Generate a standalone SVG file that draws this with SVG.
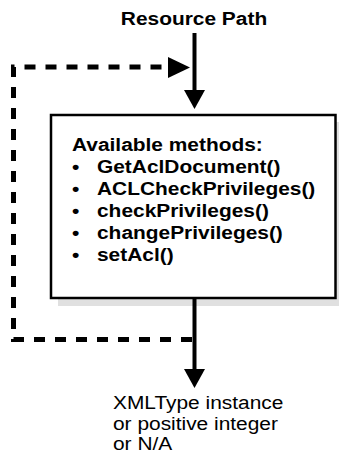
<svg xmlns="http://www.w3.org/2000/svg" width="339" height="454" viewBox="0 0 339 454">
<style>
.b{font-family:"Liberation Sans",Arial,sans-serif;font-weight:bold;font-size:19px;fill:#000}
.r{font-family:"Liberation Sans",Arial,sans-serif;font-size:19px;fill:#000}
.solid{stroke:#000;stroke-width:4;fill:none}
.dash{stroke:#000;stroke-width:5;fill:none;stroke-dasharray:11 10}
</style>
<rect width="339" height="454" fill="#fff"/>
<g id="input-label">
<text class="b" transform="translate(194,25) scale(1.1,1)" text-anchor="middle">Resource Path</text>
</g>
<g id="methods-box">
<rect x="58" y="122" width="286" height="184" fill="#e0e0e0"/>
<rect x="51" y="115" width="284.5" height="183" fill="#fff" stroke="#000" stroke-width="2.5"/>
<text class="b" transform="translate(72,151) scale(1.1,1)">Available methods:</text>
<text class="b" transform="translate(72,173) scale(1.1,1)">•</text><text class="b" transform="translate(97,173) scale(1.1,1)">GetAclDocument()</text>
<text class="b" transform="translate(72,195) scale(1.1,1)">•</text><text class="b" transform="translate(97,195) scale(1.1,1)">ACLCheckPrivileges()</text>
<text class="b" transform="translate(72,217) scale(1.1,1)">•</text><text class="b" transform="translate(97,217) scale(1.1,1)">checkPrivileges()</text>
<text class="b" transform="translate(72,239) scale(1.1,1)">•</text><text class="b" transform="translate(97,239) scale(1.1,1)">changePrivileges()</text>
<text class="b" transform="translate(72,261) scale(1.1,1)">•</text><text class="b" transform="translate(97,261) scale(1.1,1)">setAcl()</text>
</g>
<g id="output-label">
<text class="r" transform="translate(113,409) scale(1.1,1)">XMLType instance</text>
<text class="r" transform="translate(113,429.5) scale(1.1,1)">or positive integer</text>
<text class="r" transform="translate(113,450) scale(1.1,1)">or N/A</text>
</g>
<g id="connectors">
<line class="solid" x1="194.5" y1="33" x2="194.5" y2="92"/>
<polygon points="184,90 205,90 194.5,109" fill="#000"/>
<line class="solid" x1="194.5" y1="298" x2="194.5" y2="371"/>
<polygon points="184,369 205,369 194.5,388" fill="#000"/>
<path class="dash" d="M192,339.5 H13.5 V67 H170"/>
<polygon points="168,57 190,67.5 168,78" fill="#000"/>
</g>
</svg>
